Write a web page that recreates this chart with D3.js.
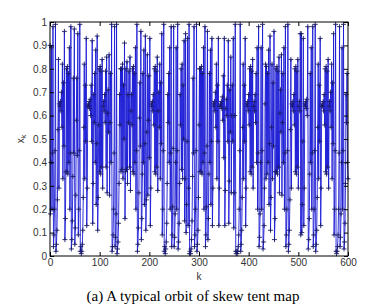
<!DOCTYPE html>
<html>
<head>
<meta charset="utf-8">
<script src="https://cdn.jsdelivr.net/npm/d3@7"></script>
<style>
body { margin: 0; background: #fff; }
svg { display: block; }
</style>
</head>
<body>
<div id="chart"></div>
<script>
// orbit values x_k, k = 0..600 (estimated)
var orbit = [
0.90,0.18,0.40,0.89,0.20,0.44,0.98,0.04,0.09,0.20,0.45,0.99,0.02,0.05,0.11,0.24,0.54,0.84,0.29,0.65,
0.64,0.66,0.62,0.70,0.55,0.82,0.33,0.74,0.47,0.96,0.07,0.16,0.36,0.80,0.36,0.81,0.35,0.78,0.40,0.89,
0.20,0.44,0.98,0.03,0.07,0.15,0.34,0.76,0.44,0.97,0.05,0.12,0.26,0.58,0.76,0.43,0.95,0.09,0.20,0.45,
0.99,0.02,0.04,0.01,0.02,0.05,0.11,0.25,0.55,0.82,0.33,0.73,0.49,0.93,0.13,0.29,0.64,0.65,0.64,0.66,
0.63,0.67,0.60,0.73,0.49,0.92,0.14,0.31,0.69,0.57,0.78,0.40,0.88,0.22,0.48,0.94,0.11,0.25,0.56,0.80,
0.36,0.81,0.35,0.79,0.38,0.84,0.29,0.64,0.66,0.62,0.69,0.57,0.79,0.38,0.85,0.27,0.61,0.71,0.53,0.86,
0.26,0.57,0.78,0.40,0.99,0.02,0.04,0.09,0.20,0.44,0.98,0.04,0.08,0.18,0.99,0.01,0.03,0.06,0.14,0.31,
0.69,0.56,0.80,0.36,0.80,0.37,0.82,0.33,0.73,0.50,0.91,0.16,0.36,0.80,0.37,0.83,0.31,0.69,0.57,0.79,
0.38,0.85,0.28,0.62,0.69,0.56,0.80,0.36,0.81,0.35,0.78,0.40,0.89,0.20,0.45,0.99,0.02,0.05,0.12,0.27,
0.59,0.74,0.47,0.96,0.07,0.16,0.35,0.78,0.40,0.88,0.22,0.48,0.94,0.11,0.24,0.53,0.86,0.26,0.58,0.77,
0.42,0.93,0.13,0.29,0.65,0.64,0.66,0.62,0.69,0.56,0.80,0.36,0.81,0.35,0.79,0.38,0.85,0.28,0.62,0.70,
0.55,0.82,0.33,0.74,0.48,0.95,0.09,0.20,0.45,0.99,0.02,0.04,0.01,0.03,0.06,0.14,0.31,0.69,0.57,0.78,
0.40,0.89,0.20,0.44,0.98,0.04,0.09,0.21,0.46,0.98,0.04,0.08,0.18,0.40,0.89,0.20,0.45,0.99,0.03,0.06,
0.14,0.31,0.69,0.56,0.80,0.37,0.82,0.33,0.73,0.50,0.92,0.15,0.33,0.95,0.10,0.22,0.49,0.93,0.13,0.29,
0.99,0.01,0.02,0.01,0.03,0.07,0.15,0.34,0.76,0.44,0.98,0.04,0.09,0.20,0.45,0.99,0.02,0.05,0.11,0.25,
0.56,0.80,0.36,0.80,0.36,0.81,0.35,0.78,0.40,0.89,0.20,0.44,0.98,0.04,0.09,0.21,0.47,0.96,0.07,0.16,
0.35,0.78,0.40,0.88,0.22,0.49,0.93,0.13,0.29,0.65,0.64,0.66,0.62,0.70,0.55,0.82,0.33,0.73,0.49,0.93,
0.13,0.29,0.64,0.65,0.64,0.66,0.63,0.68,0.58,0.77,0.42,0.93,0.13,0.28,0.63,0.67,0.60,0.73,0.49,0.92,
0.14,0.32,0.71,0.53,0.85,0.27,0.60,0.73,0.49,0.93,0.12,0.27,0.60,0.99,0.02,0.01,0.02,0.01,0.02,0.04,
0.09,0.20,0.45,0.99,0.02,0.05,0.11,0.25,0.55,0.82,0.33,0.73,0.49,0.93,0.13,0.29,0.65,0.64,0.66,0.62,
0.69,0.56,0.80,0.36,0.81,0.35,0.79,0.38,0.84,0.29,0.64,0.66,0.62,0.69,0.57,0.78,0.40,0.89,0.20,0.44,
0.98,0.04,0.08,0.18,0.40,0.89,0.20,0.45,0.99,0.03,0.06,0.13,0.29,0.65,0.82,0.33,0.81,0.35,0.78,0.40,
0.88,0.22,0.48,0.94,0.11,0.25,0.55,0.82,0.33,0.74,0.47,0.96,0.07,0.16,0.36,0.80,0.36,0.81,0.35,0.79,
0.38,0.85,0.27,0.61,0.71,0.53,0.86,0.26,0.57,0.78,0.40,0.89,0.20,0.44,0.98,0.04,0.09,0.20,0.45,0.99,
0.02,0.05,0.11,0.24,0.54,0.84,0.29,0.65,0.64,0.66,0.62,0.69,0.56,0.80,0.36,0.81,0.35,0.79,0.38,0.84,
0.29,0.64,0.66,0.62,0.95,0.09,0.95,0.10,0.22,0.49,0.93,0.13,0.29,0.65,0.64,0.66,0.63,0.67,0.60,0.98,
0.03,0.07,0.16,0.35,0.78,0.40,0.89,0.20,0.44,0.98,0.04,0.09,0.20,0.45,0.99,0.02,0.05,0.11,0.25,0.55,
0.82,0.33,0.73,0.49,0.93,0.13,0.29,0.64,0.65,0.64,0.66,0.62,0.69,0.56,0.80,0.36,0.81,0.35,0.79,0.38,
0.84,0.29,0.64,0.66,0.62,0.70,0.55,0.82,0.33,0.74,0.48,0.95,0.09,0.20,0.45,0.99,0.02,0.01,0.02,0.04,
0.09,0.20,0.44,0.98,0.04,0.08,0.18,0.40,0.89,0.20,0.45,0.99,0.03,0.06,0.14,0.31,0.69,0.57,0.78,0.40,
0.33
];
var xTicks = [0, 100, 200, 300, 400, 500, 600];
var yTicks = [0, 0.1, 0.2, 0.3, 0.4, 0.5, 0.6, 0.7, 0.8, 0.9, 1];
var xLabel = "k";
var caption = "(a) A typical orbit of skew tent map";

var W = 385, H = 307;
var margin = {top: 22, right: 37, bottom: 51, left: 50};
var width = W - margin.left - margin.right,
	height = H - margin.top - margin.bottom;

var svg = d3.select("#chart")
	.append("svg")
	.attr("width", W)
	.attr("height", H);

var g = svg.append("g")
	.attr("transform", "translate(" + margin.left + "," + margin.top + ")");

var x = d3.scaleLinear().domain([0, 600]).range([0, width]);
var y = d3.scaleLinear().domain([0, 1]).range([height, 0]);

var data = orbit.map(function(v, i) { return {k: i, v: v}; });

// line
g.append("path")
	.datum(data)
	.attr("fill", "none")
	.attr("stroke", "#1c1cd6")
	.attr("stroke-width", 0.9)
	.attr("d", d3.line()
		.x(function(d) { return x(d.k); })
		.y(function(d) { return y(d.v); }));

// + markers
var m = 2.5;
g.append("g").selectAll("path")
	.data(data)
	.enter().append("path")
	.attr("transform", function(d) { return "translate(" + x(d.k) + "," + y(d.v) + ")"; })
	.attr("d", "M" + (-m) + ",0H" + m + "M0," + (-m) + "V" + m)
	.attr("stroke", "#1a1a66")
	.attr("stroke-width", 0.9)
	.attr("fill", "none");

// axes, matlab style ticks pointing in
function styleAxis(sel) {
	sel.select(".domain").remove();
	sel.selectAll("line").attr("stroke", "#000");
	sel.selectAll("text")
		.attr("fill", "#333")
		.style("font-family", "Liberation Sans, Arial, sans-serif")
		.style("font-size", "10px");
}

g.append("g")
	.attr("transform", "translate(0," + height + ")")
	.call(d3.axisBottom(x).tickValues(xTicks).tickSizeInner(-4).tickSizeOuter(0).tickPadding(3))
	.call(styleAxis);
g.append("g")
	.call(d3.axisTop(x).tickValues(xTicks).tickSizeInner(-4).tickSizeOuter(0).tickFormat(""))
	.call(styleAxis);
g.append("g")
	.call(d3.axisLeft(y).tickValues(yTicks).tickSizeInner(-4).tickSizeOuter(0).tickPadding(3).tickFormat(d3.format("")))
	.call(styleAxis);
g.append("g")
	.attr("transform", "translate(" + width + ",0)")
	.call(d3.axisRight(y).tickValues(yTicks).tickSizeInner(-4).tickSizeOuter(0).tickFormat(""))
	.call(styleAxis);

g.append("rect")
	.attr("width", width)
	.attr("height", height)
	.attr("fill", "none")
	.attr("stroke", "#000")
	.attr("stroke-width", 1);

// axis labels
svg.append("text")
	.attr("x", margin.left + width / 2)
	.attr("y", margin.top + height + 24)
	.attr("text-anchor", "middle")
	.attr("fill", "#333")
	.style("font-family", "Liberation Sans, Arial, sans-serif")
	.style("font-size", "10px")
	.text(xLabel);

var yl = svg.append("text")
	.attr("transform", "translate(24," + (margin.top + height / 2) + ") rotate(-90)")
	.attr("text-anchor", "middle")
	.attr("fill", "#333")
	.style("font-family", "Liberation Sans, Arial, sans-serif")
	.style("font-size", "10px");
yl.append("tspan").text("x");
yl.append("tspan").attr("dy", 2).style("font-size", "7px").text("k");

svg.append("text")
	.attr("x", 193)
	.attr("y", 301)
	.attr("text-anchor", "middle")
	.attr("fill", "#000")
	.style("font-family", "Liberation Serif, Times New Roman, serif")
	.style("font-size", "15px")
	.text(caption);
</script>
</body>
</html>
